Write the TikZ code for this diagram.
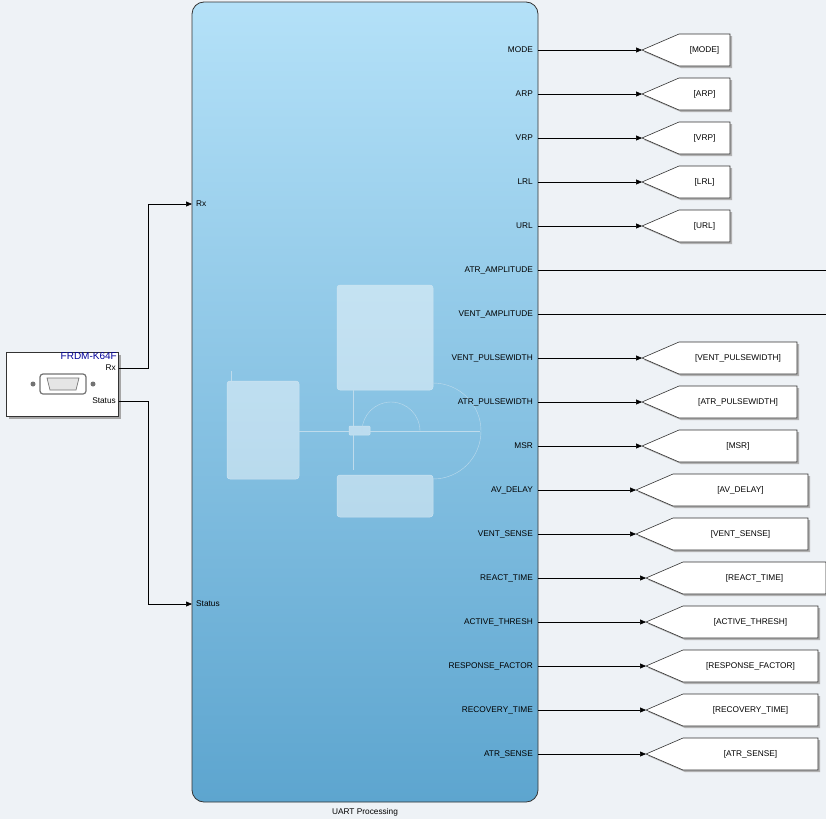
\documentclass[tikz,border=0pt]{standalone}
\usepackage{fontspec}
\setmainfont{Liberation Sans}
\usetikzlibrary{positioning, calc, arrows.meta}
\definecolor{bgc}{HTML}{EEF2F6}
\definecolor{topc}{HTML}{B4E1F8}
\definecolor{botc}{HTML}{5DA5CF}
\begin{document}
\begin{tikzpicture}[x=1pt,y=-1pt,
		lbl/.style={font=\fontsize{8.3}{9}\selectfont,inner sep=1pt},
		wire/.style={line width=0.6pt},
		faint/.style={draw=white!70!botc,fill=white,fill opacity=0.45,rounded corners=3pt,line width=0.5pt},
		tip/.style={-{Triangle[length=6pt,width=5pt]}}]
	\useasboundingbox[fill=bgc] (0,0) rectangle (826,819);
	% main subsystem
	\shade[top color=topc,bottom color=botc,draw=black!80,line width=0.8pt,rounded corners=12pt]
		(192,2) rectangle (538,802);
	\node[lbl] (title) at (365,812) {UART Processing};
	% faint chart inside
	\draw[faint] (227,381) rectangle (299,479);
	\draw[faint] (337,285) rectangle (433,390);
	\draw[faint] (337,475) rectangle (433,517);
	\draw[faint,rounded corners=1pt] (349,426) rectangle (370,435);
	\begin{scope}[draw=white!60!botc,line width=0.4pt]
		\draw (231,371) -- (231,381);
		\draw (299,431) -- (349,431);
		\draw (370,431) -- (480,431);
		\draw (353,390) -- (353,426) (353,435) -- (353,470);
		\draw (433,383) arc[start angle=-90,end angle=90,radius=48];
		\draw (362,431) arc[start angle=180,end angle=360,radius=29];
	\end{scope}
	% board block
	\fill[black!35] (9,355) rectangle (121,419);
	\node[draw=black!80,fill=white,minimum width=112pt,minimum height=64pt,inner sep=0pt,line width=0.6pt,anchor=north west] (board) at (6,352) {};
	\begin{scope}
		\clip (board.north west) rectangle (board.south east);
		\node[lbl,text=blue!60!black,anchor=east,font=\fontsize{10}{10}\selectfont] (bname) at (118,356) {FRDM-K64F};
	\end{scope}
	\draw[black!55,fill=white,rounded corners=3pt,line width=1.2pt] (40,374) rectangle (86,394);
	\draw[black!55,fill=black!10,line width=0.7pt] (47,378) -- (79,378) -- (76,390) -- (50,390) -- cycle;
	\fill[black!55] (33,384) circle (2.5pt) (93,384) circle (2.5pt);
	\node[lbl,anchor=east] (rx) at (117,368) {Rx};
	\node[lbl,anchor=east] (st) at (117,401) {Status};
	% inputs
	\node[lbl,anchor=west] (inrx) at (195,204) {Rx};
	\node[lbl,anchor=west] (inst) at (195,604) {Status};
	\coordinate (prx) at (192,204);
	\coordinate (pst) at (192,604);
	\draw[wire,tip] (board.east|-rx) -- (148,368) |- (prx);
	\draw[wire,tip] (board.east|-st) -- (148,401) |- (pst);
	% outputs and goto tags
	\foreach \nm/\lx/\rx [count=\i from 0] in {
			MODE/642/730, ARP/642/730, VRP/642/730, LRL/642/730, URL/642/730,
			ATR\_AMPLITUDE/0/0, VENT\_AMPLITUDE/0/0,
			VENT\_PULSEWIDTH/642/797, ATR\_PULSEWIDTH/642/797, MSR/642/797,
			AV\_DELAY/636/808, VENT\_SENSE/636/808,
			REACT\_TIME/646/826, ACTIVE\_THRESH/646/818, RESPONSE\_FACTOR/646/818,
			RECOVERY\_TIME/646/818, ATR\_SENSE/646/818}
		{
			\pgfmathsetmacro{\yy}{50+44*\i}
			\node[lbl,anchor=east] (o\i) at (534,\yy) {\nm};
			\coordinate (p\i) at (538,\yy);
			\ifnum\lx=0
				\coordinate (e\i) at (826,\yy);
				\draw[wire] (p\i) -- (e\i);
			\else
				\fill[black!30] (\lx+2,\yy+2) -- (\lx+39,\yy-14) -- (\rx+2,\yy-14) -- (\rx+2,\yy+18) -- (\lx+39,\yy+18) -- cycle;
				\filldraw[fill=white,draw=black!80,line width=0.6pt] (\lx,\yy) -- (\lx+37,\yy-16) -- (\rx,\yy-16) -- (\rx,\yy+16) -- (\lx+37,\yy+16) -- cycle;
				\coordinate (g\i) at (\lx,\yy);
				\node[lbl] (t\i) at ({(\lx+37+\rx)/2},\yy) {[\nm]};
				\draw[wire,tip] (p\i) -- (g\i);
			\fi
		}
\end{tikzpicture}
\end{document}
